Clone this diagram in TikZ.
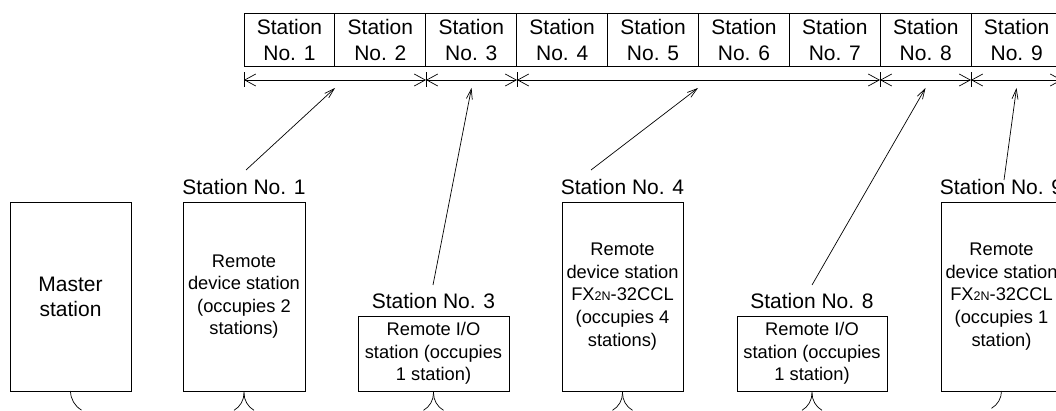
\documentclass[tikz,border=0pt]{standalone}
\usepackage{fontspec}
\setmainfont{Liberation Sans}
\usetikzlibrary{arrows.meta}
\begin{document}
\begin{tikzpicture}[x=1pt,y=1pt,
  every node/.style={inner sep=0pt, outer sep=0pt},
  box/.style={draw, line width=0.9pt, align=center, font=\fontsize{18.3}{22.6}\selectfont},
  bigbox/.style={box, minimum width=121pt, minimum height=189pt},
  smallbox/.style={box, minimum width=151pt, minimum height=75pt},
  lbl/.style={anchor=base, font=\fontsize{21}{25}\selectfont},
  cell/.style={draw, line width=0.9pt, minimum width=90.9pt, minimum height=53pt, align=center, font=\fontsize{21}{26}\selectfont},
  ptr/.style={line width=0.7pt, -{Straight Barb[length=10pt,width=6pt]}},
  dimln/.style={line width=0.7pt, {Straight Barb[length=11pt,width=12pt]}-{Straight Barb[length=11pt,width=12pt]}},
  tickln/.style={line width=0.7pt},
  bus/.style={line width=0.7pt}
]
\useasboundingbox (0,0) rectangle (1056,410);
\clip (0,0) rectangle (1056,410);

% station table
\foreach \i in {1,...,9}
  \node[cell] (c\i) at ({244+90.9*(\i-0.5)}, 370.5) {Station\\No. \i};

% dimension line
\coordinate (k0) at (244,330);
\coordinate (k2) at (426,330);
\coordinate (k3) at (517,330);
\coordinate (k7) at (880,330);
\coordinate (k8) at (971,330);
\coordinate (k9) at (1062,330);
\foreach \k in {k0,k2,k3,k7,k8,k9}
  \draw[tickln] ([yshift=7.5pt]\k) -- ([yshift=-7.5pt]\k);
\draw[dimln] (k0) -- (k2);
\draw[dimln] (k2) -- (k3);
\draw[dimln] (k3) -- (k7);
\draw[dimln] (k7) -- (k8);
\draw[dimln] (k8) -- (k9);

% stations
\node[bigbox, font=\fontsize{21}{25}\selectfont] (m) at (70.5,113.5) {Master\\station};
\node[bigbox, minimum width=122pt] (b1) at (244,113.5) {Remote\\device station\\(occupies 2\\stations)};
\node[smallbox] (b3) at (433.5,56.5) {Remote I/O\\station (occupies\\1 station)};
\node[bigbox] (b4) at (622.5,113.5) {Remote\\device station\\FX{\fontsize{12.5}{12.5}\selectfont 2N}-32CCL\\(occupies 4\\stations)};
\node[smallbox, minimum width=150pt] (b8) at (812,56.5) {Remote I/O\\station (occupies\\1 station)};
\node[bigbox] (b9) at (1001.5,113.5) {Remote\\device station\\FX{\fontsize{12.5}{12.5}\selectfont 2N}-32CCL\\(occupies 1\\station)};

\node[lbl] (l1) at (244,215) {Station No. 1};
\node[lbl] (l3) at (433.5,102) {Station No. 3};
\node[lbl] (l4) at (622.5,215) {Station No. 4};
\node[lbl] (l8) at (812,102) {Station No. 8};
\node[lbl] (l9) at (1001.5,215) {Station No. 9};

% pointers
\coordinate (t1) at (335,322);
\coordinate (t3) at (471.5,322);
\coordinate (t4) at (698,322);
\coordinate (t8) at (925.5,322);
\coordinate (t9) at (1016.5,322);
\coordinate (s1) at (246,240);
\coordinate (s3) at (433,125);
\coordinate (s4) at (591,240);
\coordinate (s8) at (812,125);
\coordinate (s9) at (1004,230);
\draw[ptr] (s1) -- (t1);
\draw[ptr] (s3) -- (t3);
\draw[ptr] (s4) -- (t4);
\draw[ptr] (s8) -- (t8);
\draw[ptr] (s9) -- (t9);

% bus connections
\draw[bus] (m.south) arc[start angle=180, end angle=240, radius=22];
\foreach \b in {b1,b3,b4,b8}{
  \draw[bus] (\b.south) -- ++(0,-2) coordinate (j\b) arc[start angle=0, end angle=-60, radius=20];
  \draw[bus] (j\b) arc[start angle=180, end angle=240, radius=20];
}
\draw[bus] (b9.south) arc[start angle=0, end angle=-60, radius=20];
\end{tikzpicture}
\end{document}
